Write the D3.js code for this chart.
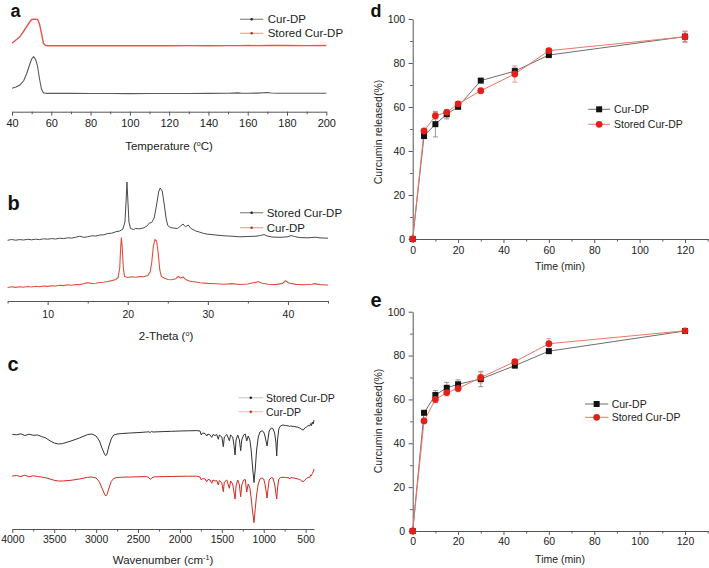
<!DOCTYPE html>
<html><head><meta charset="utf-8">
<script src="https://cdn.jsdelivr.net/npm/d3@7"></script>
<style>
body{margin:0;background:#fff;}
svg{display:block;font-family:"Liberation Sans",Arial,sans-serif;}
</style></head><body>
<svg id="chart" width="709" height="568"></svg>
<script>
// ---------- Panel a: DSC (temperature °C, heat flow a.u.) ----------
const dscTemp = [40,42,44,46,47.5,49,50,51,52,53,54,55,56,57,58,60,70,80,90,100,110,120,130,140,150,155,157,160,165,170,172,175,180,190,200];
const dscCurDP = [16.7,18,20,24.5,31.5,40.5,46,48.3,45.5,39,26,16,12.2,11.7,11.6,11.6,11.6,11.5,11.5,11.4,11.5,11.5,11.5,11.6,11.7,12.1,11.8,11.8,11.9,12.5,12,11.8,11.7,11.7,11.7];
const dscStored = [61.7,65,68.2,74,78.5,83,85.5,85.8,85.8,85.6,81,72,61.5,59.7,59.3,59.2,59.2,59.2,59.3,59.2,59.3,59.3,59.4,59.3,59.4,59.4,59.4,59.5,59.4,59.6,59.5,59.5,59.5,59.4,59.5];
const dscTicks = [40,60,80,100,120,140,160,180,200];
const dscMinor = [50,70,90,110,130,150,170,190];

// ---------- Panel b: XRD [2-theta, intensity a.u.] ----------
const xrdStored = [[5,64.7],[5.5,65.5],[6,64.8],[6.5,65.4],[7,65],[7.5,65.7],[8,65.2],[8.5,65.8],[9,65.4],[9.5,66.2],[10,65.8],[10.5,66.4],[11,66],[11.5,66.8],[12,66.4],[12.5,67.2],[13,66.9],[13.5,67.7],[14,68.8],[14.5,67.7],[15,68.2],[15.5,69.2],[16,69],[16.5,70],[17,70.2],[17.5,71.5],[18,71.8],[18.5,73.2],[19,74],[19.4,76],[19.65,83],[19.8,105],[19.9,123],[20,107],[20.15,83],[20.35,76.5],[20.7,75.5],[21,76.5],[21.5,76.2],[22,77.2],[22.4,79],[22.7,82],[23,82.5],[23.3,87],[23.6,100],[23.85,113],[24.05,117],[24.3,114],[24.55,101],[24.8,86],[25,79.5],[25.3,77.5],[25.7,77],[26.2,76.5],[26.6,79],[26.9,81],[27.2,78.2],[27.55,80],[27.9,76.5],[28.5,74],[29,72.8],[29.5,71.5],[30,70.8],[31,70],[32,69.2],[33,68.8],[34,68.2],[35,68.5],[36,68.8],[36.6,69.5],[37,70.5],[37.4,69],[38,68],[39,67.7],[40,68.2],[40.4,69.5],[40.8,68.5],[41.5,67.4],[42.5,67.2],[43.5,67.8],[44,67.1],[45,66.8]];
const xrdCurDP = [[5,17.5],[5.5,18.2],[6,17.6],[6.5,18.3],[7,17.8],[7.5,18.5],[8,18],[8.5,18.7],[9,18.3],[9.5,19],[10,18.6],[10.5,19.3],[11,19],[11.5,19.7],[12,19.4],[12.5,20.2],[13,19.8],[13.5,20.5],[14,20.4],[14.5,21.2],[15,22.4],[15.5,21.5],[16,21.8],[16.5,22.5],[17,22.8],[17.5,23.5],[18,24.4],[18.5,25.5],[18.8,27.5],[19,37],[19.1,55],[19.2,67.5],[19.3,59],[19.45,37],[19.6,28.5],[20,27.5],[20.5,28.2],[21,27.7],[21.5,28.4],[22,28.2],[22.5,29.5],[22.8,33],[23,43],[23.2,59],[23.4,65.5],[23.6,64],[23.8,52],[24,35],[24.2,28.5],[24.6,26.7],[25,25.5],[25.5,25.2],[26,26.2],[26.3,28.7],[26.6,26.8],[26.9,28],[27.3,25.2],[27.8,23.7],[28.5,23],[29,22.2],[30,21.6],[31,21.2],[32,20.8],[33,21.4],[34,20.5],[35,21],[35.5,22],[36,22.6],[36.3,23.4],[36.8,21.8],[37.5,20.8],[38.5,20.4],[39.3,21.6],[39.7,24.2],[40.1,22],[41,20.6],[42,20.3],[43,20.8],[43.3,21.4],[44,20.4],[45,20]];
const xrdTicks = [10,20,30,40];
const xrdMinor = [5,15,25,35,45];

// ---------- Panel c: FTIR [wavenumber, Stored Cur-DP, Cur-DP] (transmittance a.u.) ----------
const ftirData = [[4000,95.7,54],[3950,95.2,54.5],[3900,96.2,53.5],[3850,94.5,54.8],[3800,95.8,53.2],[3750,94.7,54.2],[3700,95,53.5],[3650,93.5,53],[3600,92,52.2],[3550,89.2,51],[3500,87,49.7],[3450,86,49],[3400,86.4,49],[3300,89,49.7],[3200,92,51],[3100,95.5,52.7],[3050,96,53],[3000,94,52],[2960,89,48],[2930,82,42],[2900,76,36],[2885,74.3,34],[2870,76,35.5],[2850,83,41],[2820,91,48.5],[2790,95,51.5],[2750,96,52.5],[2700,96.4,52.8],[2600,97,53],[2500,97.4,53.2],[2400,98,53.4],[2370,98.2,52.5],[2355,97.5,50.7],[2340,98.5,51.5],[2320,98,53],[2200,98.4,53.4],[2100,98.7,53.5],[2000,99,53.7],[1900,99.2,53.8],[1800,99.4,53.8],[1760,99,53],[1745,95,50],[1730,97,51.5],[1700,96.5,51],[1680,94,48.3],[1665,96,50.5],[1640,95,50],[1620,92.7,46.7],[1605,95.5,50],[1580,94.5,49],[1560,95.5,49.5],[1542,90.7,45],[1528,95,49.5],[1500,93,47],[1482,83.3,38.3],[1470,93,48],[1440,95.5,50],[1410,89.3,41.7],[1395,95,49],[1370,93,46],[1355,85,38],[1342,75,31],[1330,90,44],[1310,95,50],[1290,90,45],[1275,79.3,33.3],[1262,90,45],[1240,95,50],[1220,96,50.5],[1203,89,38],[1185,94,46],[1165,90,42],[1150,80,32],[1135,65,20],[1116,47.5,7.3],[1100,62,22],[1085,80,35],[1065,93,46],[1045,98,51],[1020,99.2,52],[1000,98,51],[985,94,46],[970,88,38],[960,84,32],[950,90,40],[935,99,50],[910,102,52.5],[890,101.5,52],[870,97,46],[855,88,37],[845,74,31],[835,90,42],[820,101,51],[800,104,52.5],[770,105,52.7],[740,104.5,52.5],[700,104,52.2],[690,103.5,51],[680,104,52.4],[640,103.5,52],[600,103,51.2],[570,102,50.5],[545,100.5,49],[527,100,48.3],[510,102,50],[490,103,51.5],[470,104.5,52.5],[450,104,52.7],[440,106.5,55],[430,104.5,54.5],[420,108,56.5],[410,106,58],[400,110,61]];
const ftirTicks = [4000,3500,3000,2500,2000,1500,1000,500];
const ftirMinor = [3750,3250,2750,2250,1750,1250,750];

// ---------- Panels d, e: release (%) ----------
const relTime = [0,5,10,15,20,30,45,60,120];
const dCurDP = [0,46.8,52.2,56.7,60.1,72,76.3,83.6,92];
const dCurDPErr = [0,0.8,5.8,2.1,1,0.8,1.5,0.8,2.2];
const dStored = [0,49.1,56,57.6,61.4,67.4,75,85.6,91.9];
const dStoredErr = [0,0.8,1.5,1,0.8,0.8,3.7,1,2.6];
const eCurDP = [0,53.9,62,65.3,66.9,69.3,75.4,82,91.2];
const eCurDPErr = [0,0.8,2,2.5,2,3.5,0.8,0.8,0.8];
const eStored = [0,50.2,60,63.1,65,70,77.2,85.4,91.3];
const eStoredErr = [0,0.8,1.5,1.5,1.5,2.5,0.8,2.3,0.8];
const relTicks = [0,20,40,60,80,100,120];
const relMinor = [10,30,50,70,90,110,130];
const pctTicks = [0,20,40,60,80,100];
const pctMinor = [10,30,50,70,90];

// ================= drawing =================
const svg = d3.select("#chart");
svg.append("rect").attr("width",709).attr("height",568).attr("fill","#fff");
const AX = "#555", TXT = "#222";

function styleAxis(g, fs){
  g.selectAll("path,line").attr("stroke",AX).attr("stroke-width",1);
  g.selectAll("text").attr("fill",TXT).attr("font-size",fs).attr("font-family","Liberation Sans, Arial, sans-serif");
}
function bottomAxis(x, yPos, majors, minors, fs, pad){
  const g = svg.append("g").attr("transform",`translate(0,${yPos})`)
    .call(d3.axisBottom(x).tickValues(majors).tickSizeInner(4).tickSizeOuter(0).tickPadding(pad).tickFormat(d3.format("d")));
  styleAxis(g, fs);
  const m = svg.append("g").attr("transform",`translate(0,${yPos})`)
    .call(d3.axisBottom(x).tickValues(minors).tickSizeInner(2.5).tickSizeOuter(0).tickFormat(""));
  m.select(".domain").remove();
  styleAxis(m, fs);
}
function leftAxis(y, xPos, majors, minors, fs, pad){
  const g = svg.append("g").attr("transform",`translate(${xPos},0)`)
    .call(d3.axisLeft(y).tickValues(majors).tickSizeInner(4).tickSizeOuter(0).tickPadding(pad).tickFormat(d3.format("d")));
  styleAxis(g, fs);
  const m = svg.append("g").attr("transform",`translate(${xPos},0)`)
    .call(d3.axisLeft(y).tickValues(minors).tickSizeInner(2.5).tickSizeOuter(0).tickFormat(""));
  m.select(".domain").remove();
  styleAxis(m, fs);
}
function panelLetter(t, x, y, fs){
  svg.append("text").attr("x",x).attr("y",y).attr("font-size",fs||20).attr("font-weight","bold")
    .attr("fill","#111").text(t);
}
function supTitle(x, y, fs, before, sup, after){
  const t = svg.append("text").attr("x",x).attr("y",y).attr("text-anchor","middle")
    .attr("font-size",fs).attr("fill",TXT);
  t.append("tspan").text(before);
  t.append("tspan").attr("dy",-4).attr("font-size",fs*0.62).text(sup);
  t.append("tspan").attr("dy",4).text(after);
}
function specLegend(x0, x1, xt, y, lineCol, dotCol, label, fs){
  svg.append("line").attr("x1",x0).attr("x2",x1).attr("y1",y).attr("y2",y)
    .attr("stroke",lineCol).attr("stroke-width",1.2);
  svg.append("circle").attr("cx",(x0+x1)/2).attr("cy",y).attr("r",1.3).attr("fill",dotCol);
  svg.append("text").attr("x",xt).attr("y",y+4).attr("font-size",fs).attr("fill",TXT).text(label);
}

// ---- Panel a ----
{
  const x = d3.scaleLinear().domain([40,200]).range([12,326.3]);
  const y = d3.scaleLinear().domain([0,100]).range([105,5]);
  const line = d3.line().x(d=>x(d[0])).y(d=>y(d[1]));
  svg.append("path").datum(dscTemp.map((t,i)=>[t,dscStored[i]])).attr("d",line)
    .attr("fill","none").attr("stroke","#e2574f").attr("stroke-width",1.4);
  svg.append("path").datum(dscTemp.map((t,i)=>[t,dscCurDP[i]])).attr("d",line)
    .attr("fill","none").attr("stroke","#5a5a5a").attr("stroke-width",1.1);
  bottomAxis(x, 111.7, dscTicks, dscMinor, 11, 3.4);
  supTitle(169, 149.5, 11.5, "Temperature (", "o", "C)");
  specLegend(240, 263.3, 267.7, 19.3, "#888", "#222", "Cur-DP", 11.5);
  specLegend(240, 263.3, 267.7, 33.3, "#f2a39b", "#d9261c", "Stored Cur-DP", 11.5);
  panelLetter("a", 10.5, 16.5, 18);
}

// ---- Panel b ----
{
  const x = d3.scaleLinear().domain([5,45]).range([7.6,328]);
  const y = d3.scaleLinear().domain([0,125]).range([305,180]);
  const line = d3.line().x(d=>x(d[0])).y(d=>y(d[1]));
  svg.append("path").datum(xrdStored).attr("d",line)
    .attr("fill","none").attr("stroke","#4a4a4a").attr("stroke-width",1);
  svg.append("path").datum(xrdCurDP).attr("d",line)
    .attr("fill","none").attr("stroke","#e0503f").attr("stroke-width",1.1);
  bottomAxis(x, 301, xrdTicks, xrdMinor, 10.5, 5.8);
  supTitle(166, 339.5, 11.5, "2-Theta (", "o", ")");
  specLegend(240, 263.3, 266.7, 212.7, "#888", "#222", "Stored Cur-DP", 11.5);
  specLegend(240, 263.3, 266.7, 227.7, "#f2a39b", "#d9261c", "Cur-DP", 11.5);
  panelLetter("b", 7.5, 210);
}

// ---- Panel c ----
{
  const x = d3.scaleLinear().domain([4000,400]).range([12.3,314]);
  const y = d3.scaleLinear().domain([0,110]).range([530,420]);
  const lineS = d3.line().x(d=>x(d[0])).y(d=>y(d[1]));
  const lineC = d3.line().x(d=>x(d[0])).y(d=>y(d[2]));
  svg.append("path").datum(ftirData).attr("d",lineS)
    .attr("fill","none").attr("stroke","#333").attr("stroke-width",1);
  svg.append("path").datum(ftirData).attr("d",lineC)
    .attr("fill","none").attr("stroke","#d42a22").attr("stroke-width",1);
  bottomAxis(x, 529, ftirTicks, ftirMinor, 10.5, 3);
  supTitle(163, 564, 11.5, "Wavenumber (cm", "-1", ")");
  specLegend(238.3, 263.3, 266, 397.7, "#cfcfcf", "#222", "Stored Cur-DP", 10.5);
  specLegend(238.3, 263.3, 266, 411.7, "#f7c6bf", "#d9261c", "Cur-DP", 10.5);
  panelLetter("c", 7.5, 371);
}

// ---- Panels d & e ----
function releasePanel(y0, y100, cur, curErr, sto, stoErr, leg, titleY, yTitleY, xPad){
  const x = d3.scaleLinear().domain([0,130]).range([412.7,707.7]);
  const y = d3.scaleLinear().domain([0,100]).range([y0,y100]);
  bottomAxis(x, y0, relTicks, relMinor, 10.5, xPad);
  leftAxis(y, 412.7, pctTicks, pctMinor, 10.5, 3.5);
  svg.append("text").attr("x",560).attr("y",titleY).attr("text-anchor","middle")
    .attr("font-size",10.5).attr("fill",TXT).text("Time (min)");
  svg.append("text").attr("transform",`translate(382,${yTitleY}) rotate(-90)`).attr("text-anchor","middle")
    .attr("font-size",10.5).attr("fill",TXT).text("Curcumin released(%)");
  const line = d3.line().x(d=>x(d[0])).y(d=>y(d[1]));
  const series = [
    {v:cur, e:curErr, line:"#6e6e6e", err:"#8a8a8a", mark:"sq", fill:"#111"},
    {v:sto, e:stoErr, line:"#f07565", err:"#ee8a80", mark:"ci", fill:"#e0201a"}
  ];
  series.forEach(s=>{
    const pts = relTime.map((t,i)=>[t,s.v[i],s.e[i]]);
    svg.append("path").datum(pts).attr("d",line).attr("fill","none")
      .attr("stroke",s.line).attr("stroke-width",1);
    pts.forEach(p=>{
      if(p[2]>0){
        const g = svg.append("g").attr("stroke",s.err).attr("stroke-width",0.9);
        g.append("line").attr("x1",x(p[0])).attr("x2",x(p[0])).attr("y1",y(p[1]-p[2])).attr("y2",y(p[1]+p[2]));
        g.append("line").attr("x1",x(p[0])-2.5).attr("x2",x(p[0])+2.5).attr("y1",y(p[1]-p[2])).attr("y2",y(p[1]-p[2]));
        g.append("line").attr("x1",x(p[0])-2.5).attr("x2",x(p[0])+2.5).attr("y1",y(p[1]+p[2])).attr("y2",y(p[1]+p[2]));
      }
    });
  });
  series.forEach(s=>{
    relTime.forEach((t,i)=>{
      if(s.mark==="sq"){
        svg.append("rect").attr("x",x(t)-3).attr("y",y(s.v[i])-3).attr("width",6).attr("height",6).attr("fill",s.fill);
      } else {
        svg.append("circle").attr("cx",x(t)).attr("cy",y(s.v[i])).attr("r",3.4).attr("fill",s.fill);
      }
    });
  });
  const lx0 = leg.x0, lx1 = leg.x1, mx = (lx0+lx1)/2;
  svg.append("line").attr("x1",lx0).attr("x2",lx1).attr("y1",leg.y1).attr("y2",leg.y1).attr("stroke","#6e6e6e");
  svg.append("rect").attr("x",mx-3).attr("y",leg.y1-3).attr("width",6).attr("height",6).attr("fill","#111");
  svg.append("text").attr("x",leg.tx).attr("y",leg.y1+4).attr("font-size",10.5).attr("fill",TXT).text("Cur-DP");
  svg.append("line").attr("x1",lx0).attr("x2",lx1).attr("y1",leg.y2).attr("y2",leg.y2).attr("stroke","#f07565");
  svg.append("circle").attr("cx",mx).attr("cy",leg.y2).attr("r",3.4).attr("fill","#e0201a");
  svg.append("text").attr("x",leg.tx).attr("y",leg.y2+4).attr("font-size",10.5).attr("fill",TXT).text("Stored Cur-DP");
}
releasePanel(239, 19, dCurDP, dCurDPErr, dStored, dStoredErr,
  {x0:588.3, x1:610, y1:109.3, y2:124.3, tx:614}, 270, 132, 3.2);
panelLetter("d", 370.5, 16.5, 18);
releasePanel(531, 311.7, eCurDP, eCurDPErr, eStored, eStoredErr,
  {x0:585, x1:608.3, y1:404, y2:417.3, tx:611.7}, 563, 421, 2.9);
panelLetter("e", 370.5, 306.7);
</script>
</body></html>
